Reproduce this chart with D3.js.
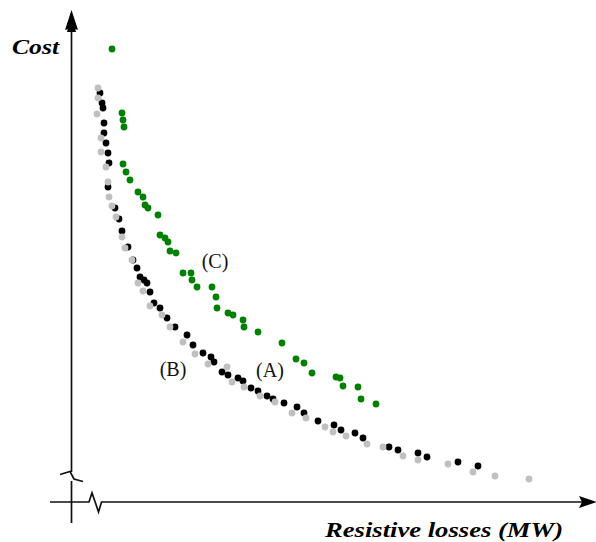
<!DOCTYPE html>
<html>
<head>
<meta charset="utf-8">
<script src="https://cdn.jsdelivr.net/npm/d3@7"></script>
<style>
    body { margin: 0; background: #fff; }
</style>
</head>
<body>
<div id="chart"></div>
<script>
// values, in plain chart units (losses, cost)
let seriesA = [
    [28,408],[30,398],[31,393],[32,378],[32,368],[34,358],[36,348],[37,338],[36,314],[43,293],
    [47,282],[50,270],[56,254],[61,241],[65,233],[68,224],[72,221],[75,218],[78,209],[82,198],
    [88,193],[95,183],[103,174],[115,166],[121,156],[131,148],[139,144],[142,139],[150,129],[156,126],
    [166,123],[171,120],[179,113],[186,110],[195,105],[201,102],[212,98],[225,94],[232,88],[246,80],
    [262,76],[269,71],[283,68],[291,63],[317,54],[326,51],[346,48],[355,44],[386,39],[406,35]
]
let seriesB = [
    [26,413],[26,403],[25,387],[29,363],[29,349],[34,334],[36,319],[37,304],[40,295],[44,284],
    [50,264],[53,253],[60,241],[66,218],[71,210],[78,195],[90,186],[98,174],[111,159],[123,147],
    [136,137],[155,134],[160,119],[172,114],[188,105],[203,99],[220,88],[234,83],[253,74],[261,69],
    [274,65],[295,57],[311,54],[331,45],[346,41],[376,37],[401,29],[423,25],[457,22]
]
let seriesC = [
    [40,452],[50,388],[51,381],[52,374],[51,337],[54,329],[58,321],[66,309],[71,304],[73,296],
    [76,293],[86,286],[88,266],[93,263],[96,259],[98,250],[104,248],[111,228],[119,228],[120,221],
    [125,214],[140,214],[144,204],[145,193],[156,188],[161,186],[171,181],[172,174],[186,169],[210,158],
    [224,142],[232,138],[240,128],[264,124],[268,123],[271,115],[286,114],[289,102],[304,97]
]
let curveLabels = [
    { text: "(A)", x: 198, y: 124 },
    { text: "(B)", x: 101, y: 125 },
    { text: "(C)", x: 143, y: 233 }
]
let xDomain = [0, 520],
    yDomain = [0, 490]

let width = 596,
    height = 542

let svg = d3.select('#chart')
    .append('svg')
    .attr("width", width)
    .attr("height", height)

let x = d3.scaleLinear().domain(xDomain).range([72, 592])
let y = d3.scaleLinear().domain(yDomain).range([501, 11])

// axes with break marks near the origin
let axis = svg.append("g")
    .attr("fill", "none")
    .attr("stroke", "#111")
    .attr("stroke-width", 1.7)
    .attr("stroke-linejoin", "miter")

axis.append("path")
    .attr("d", "M71.5,28 L71.5,472 M60,474.5 L70,471.5 L74,479 L83,481.5 M71.5,481 L71.5,523")
axis.append("path")
    .attr("d", "M50,502 L89,502 L92,493 L95.5,503 L98.5,512 L101.5,502 L583,502")

svg.append("path")
    .attr("d", "M71.5,10 L78,30 L71.5,28 L65,30 Z M71.5,16 L76,32 L67,32 Z")
    .attr("fill", "#000")
svg.append("path")
    .attr("d", "M597,502 L579,496 L582,502 L579,508 Z")
    .attr("fill", "#000")

function drawDots(data, color) {
    svg.append("g")
        .selectAll("circle")
        .data(data)
        .enter().append("circle")
        .attr("cx", function (d) { return x(d[0]) })
        .attr("cy", function (d) { return y(d[1]) })
        .attr("r", 3.4)
        .attr("fill", color)
}

drawDots(seriesA, "#000")
drawDots(seriesB, "#c0c0c0")
drawDots(seriesC, "#008000")

svg.selectAll(".curve-label")
    .data(curveLabels)
    .enter().append("text")
    .attr("class", "curve-label")
    .attr("x", function (d) { return x(d.x) })
    .attr("y", function (d) { return y(d.y) })
    .attr("text-anchor", "middle")
    .attr("font-family", "Liberation Serif, serif")
    .attr("font-size", 20)
    .attr("fill", "#111")
    .text(function (d) { return d.text })

svg.append("text")
    .attr("x", 12)
    .attr("y", 54)
    .attr("font-family", "Liberation Serif, serif")
    .attr("font-style", "italic")
    .attr("font-weight", "bold")
    .attr("font-size", 21)
    .attr("textLength", 47)
    .attr("lengthAdjust", "spacingAndGlyphs")
    .text("Cost")

svg.append("text")
    .attr("x", 325)
    .attr("y", 537)
    .attr("font-family", "Liberation Serif, serif")
    .attr("font-style", "italic")
    .attr("font-weight", "bold")
    .attr("font-size", 22)
    .attr("textLength", 238)
    .attr("lengthAdjust", "spacingAndGlyphs")
    .text("Resistive losses (MW)")
</script>
</body>
</html>
